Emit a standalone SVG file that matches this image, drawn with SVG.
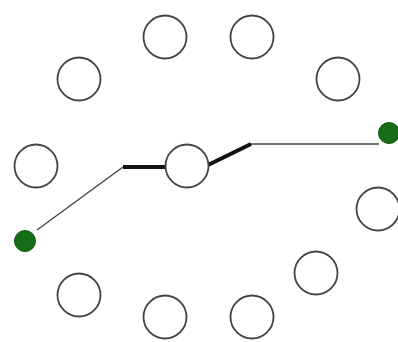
<svg xmlns="http://www.w3.org/2000/svg" width="398" height="342" viewBox="0 0 398 342">
<style>
.n{fill:#fff;stroke:#444;stroke-width:1.8}
.g{fill:#176c17;stroke:#0f560f;stroke-width:1}
.thin{fill:none;stroke:#444;stroke-width:1.4}
.thick{fill:none;stroke:#111;stroke-width:4}
</style>
<rect width="398" height="342" fill="#fff"/>
<g id="connectors">
<polyline class="thin" points="37,230 123,167"/>
<polyline class="thick" points="123,167 165,167"/>
<polyline class="thick" points="208,165 251,144"/>
<polyline class="thin" points="251,144 379,144"/>
</g>
<g id="n1"><circle class="n" cx="165" cy="37" r="21.5"/></g>
<g id="n2"><circle class="n" cx="252" cy="37" r="21.5"/></g>
<g id="n3"><circle class="n" cx="79" cy="79" r="21.5"/></g>
<g id="n4"><circle class="n" cx="338" cy="79" r="21.5"/></g>
<g id="n5"><circle class="n" cx="36" cy="166" r="21.5"/></g>
<g id="n6"><circle class="n" cx="187" cy="166" r="21.5"/></g>
<g id="n7"><circle class="n" cx="378" cy="209" r="21.5"/></g>
<g id="n8"><circle class="n" cx="316" cy="273" r="21.5"/></g>
<g id="n9"><circle class="n" cx="79" cy="295" r="21.5"/></g>
<g id="n10"><circle class="n" cx="165" cy="317" r="21.5"/></g>
<g id="n11"><circle class="n" cx="252" cy="317" r="21.5"/></g>
<g id="start"><circle class="g" cx="25" cy="241" r="10.5"/></g>
<g id="end"><circle class="g" cx="389" cy="133" r="10.5"/></g>
</svg>
